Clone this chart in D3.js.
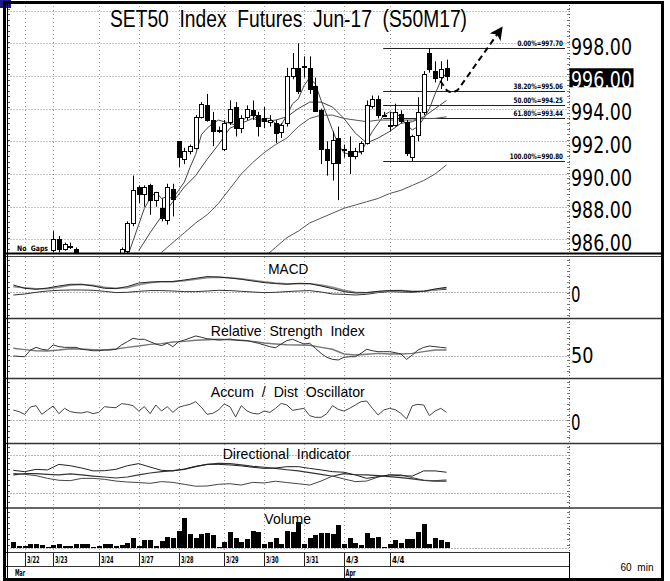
<!DOCTYPE html>
<html>
<head>
<meta charset="utf-8">
<title>SET50 Index Futures Jun-17</title>
<script src="https://cdn.jsdelivr.net/npm/d3@7"></script>
<style>
  body { margin: 0; background: #fff; }
  text { font-family: "Liberation Sans", Arial, sans-serif; white-space: pre; fill: #000; }
  .narrow { font-family: "Liberation Sans Narrow", "DejaVu Sans Condensed", "Liberation Sans", sans-serif; }
  .small { font-family: "DejaVu Sans Condensed", "DejaVu Sans", sans-serif; font-weight: bold; }
</style>
</head>
<body>
<svg id="chart" width="670" height="581"></svg>
<script>
// ---- data (60 min bars, index 0..76) ----
const title = "SET50  Index  Futures  Jun-17  (S50M17)";
const dateLabels = ["3/22", "3/23", "3/24", "3/27", "3/28", "3/29", "3/30", "3/31", "4/3", "4/4"];
const dateIdx = [2, 7, 15, 22, 29, 37, 44, 51, 58, 66];
const monthLabels = ["Mar", "Apr"];
const monthIdx = [null, 58];

const opens = [984.2,984.4,984.5,984.6,984.9,984.8,984.9,985.3,986.0,985.4,985.6,985.4,984.9,984.5,984.2,984.2,984.4,984.7,984.8,984.9,
  985.3,987.0,989.2,988.8,989.3,988.4,987.9,987.2,989.1,992.0,990.9,991.4,991.6,993.5,994.2,993.3,992.7,991.5,993.2,994.1,
  992.8,993.5,993.9,993.6,993.4,993.2,993.1,992.6,993.1,996.0,996.5,996.6,996.5,995.4,993.9,991.5,990.7,992.2,991.5,991.4,
  991.1,991.4,991.9,994.2,994.6,993.6,993.0,993.0,993.7,993.2,991.0,992.4,993.8,997.4,996.3,995.9,996.5];
const highs = [984.6,984.7,984.8,985.0,985.0,985.0,985.0,986.5,986.2,985.8,985.8,985.5,985.0,984.8,984.3,984.6,984.9,985.0,985.0,985.5,
  987.1,989.9,989.3,989.3,989.4,988.9,988.5,989.4,989.4,992.0,991.6,991.8,993.6,994.4,994.9,993.8,992.9,993.3,994.5,994.4,
  993.6,994.2,994.5,993.8,994.1,993.6,993.3,993.1,996.5,997.4,998.0,997.2,997.2,995.9,994.0,992.0,992.6,992.9,991.8,992.3,
  991.6,992.0,994.5,994.8,994.8,993.8,993.8,994.3,993.9,993.3,992.4,994.7,996.3,997.7,996.9,996.9,997.0];
const lows = [983.9,984.2,984.3,984.4,984.6,984.6,984.8,985.2,985.2,985.3,985.4,984.8,984.3,984.0,984.1,983.8,984.2,984.4,984.5,984.8,
  985.1,986.8,988.2,988.0,987.5,988.0,987.1,986.9,987.4,990.4,990.6,991.2,991.5,993.4,993.2,991.7,992.5,991.4,993.0,992.3,
  992.5,993.3,993.3,992.3,992.8,992.9,991.9,992.2,992.9,995.8,994.9,995.9,994.9,993.8,990.6,989.9,989.6,988.4,991.0,990.0,
  990.9,991.2,991.8,994.0,993.4,993.5,992.6,992.9,993.1,991.1,990.8,992.0,993.6,996.2,995.6,995.2,995.7];
const closes = [984.4,984.5,984.6,984.9,984.8,984.9,984.9,986.0,985.4,985.7,985.6,984.9,984.5,984.2,984.2,984.4,984.7,984.8,984.9,985.4,
  987.0,989.0,988.8,989.2,988.4,988.9,987.3,989.2,988.5,991.0,991.4,991.7,993.5,994.3,993.3,992.6,992.7,993.1,994.0,992.8,
  993.4,994.0,993.6,992.9,993.2,993.3,992.5,993.0,996.0,996.5,995.1,996.6,995.2,993.9,991.5,990.8,992.1,990.7,991.5,991.1,
  991.4,991.9,994.2,994.6,993.6,993.6,993.0,993.8,993.3,991.3,992.3,993.8,996.1,996.4,995.9,996.4,996.0];
const volume = [170,50,60,100,110,80,20,80,110,60,50,120,100,110,20,60,110,100,60,70,
  150,300,50,240,220,60,200,330,290,500,880,400,300,420,450,380,20,170,470,280,
  170,270,500,470,120,170,280,100,500,480,780,100,300,370,450,430,400,680,100,280,
  150,70,430,300,330,20,100,220,150,270,270,470,700,120,300,220,170];

// moving averages on the price panel (start index, step, values)
const ma1Start = 20, ma1Step = 1;
const ma1 = [984.9,985.9,986.9,987.9,988.5,988.9,988.5,988.6,988.5,989.0,989.5,990.4,991.2,992.4,992.8,993.1,993.3,993.2,993.1,993.0,
  993.2,993.5,993.6,993.3,993.4,993.4,993.1,993.0,993.6,994.3,994.6,995.4,995.9,995.5,994.5,993.6,992.7,991.8,991.3,991.2,
  991.4,991.3,992.0,992.6,993.1,993.6,993.8,993.7,993.5,993.0,992.7,992.9,993.4,994.0,994.9,995.7,996.2];
const ma2Start = 22, ma2Step = 2;
const ma2 = [985.3,986.4,987.4,988.3,989.2,989.9,990.9,991.8,992.8,993.1,993.4,993.2,993.3,993.5,994.0,994.4,994.4,994.1,993.4,992.5,
  991.9,992.2,992.6,993.1,993.2,993.5,994.0,994.5];
const ma3Start = 26, ma3Step = 2;
const ma3 = [985.2,985.8,986.4,987.0,987.5,988.2,989.1,990.0,990.7,991.3,991.8,992.2,992.9,993.4,993.6,993.6,993.4,993.3,993.2,993.3,
  993.3,993.3,993.3,993.4,993.4,993.5];
const ma4Start = 44, ma4Step = 2;
const ma4 = [984.9,985.5,986.1,986.5,987.0,987.3,987.6,987.9,988.1,988.3,988.5,988.8,989.0,989.3,989.6,990.0,990.55];

// fibonacci retracement
const fibPct = ["0.00%", "38.20%", "50.00%", "61.80%", "100.00%"];
const fibVal = [997.70, 995.06, 994.25, 993.44, 990.80];
const fibStartIdx = 64.9;
// dashed projection arrow, [bar index, price]
const arrowPts = [[74.9, 995.7], [76.1, 995.1], [77.0, 994.95], [78.0, 995.15], [85.2, 998.7]];

const priceTicks = [986, 988, 990, 992, 994, 996, 998];
const priceGrid = [986, 988, 990, 992, 994, 996, 998, 1000];
const lastPrice = 996.00;

// indicator panels, one value every 2 bars unless noted
const macdLine = [0.73,0.40,0.30,0.43,0.63,0.80,0.80,0.63,0.40,0.37,0.57,0.93,1.03,1.07,1.07,1.23,1.40,1.57,1.53,1.43,
  1.30,1.13,0.97,0.87,0.80,0.90,0.87,0.63,0.37,0.07,-0.07,-0.03,0.10,0.17,0.17,0.07,0.10,0.33,0.50];
const macdSignal = [0.55,0.45,0.35,0.35,0.50,0.70,0.78,0.70,0.50,0.40,0.45,0.75,0.95,1.05,1.07,1.15,1.30,1.45,1.50,1.45,
  1.35,1.20,1.05,0.93,0.85,0.85,0.85,0.72,0.50,0.20,0.00,-0.05,0.05,0.15,0.17,0.10,0.10,0.27,0.43];
const macdOsc = [-0.27,-0.17,0,0.13,0.2,0.23,0.23,0.2,0.1,-0.03,0,0.1,0.17,0.17,0.13,0.07,0.07,0.13,0.2,0.17,
  0.1,0.03,-0.03,0,0.07,0.13,0.17,0.03,-0.17,-0.2,-0.27,-0.2,-0.03,0.07,0.03,0,0.1,0.23,0.3];
// every bar
const rsi = [50.0,49.7,49.4,55.0,57.2,55.6,55.0,59.2,57.8,57.2,57.2,57.2,55.6,55.0,54.4,54.4,55.0,55.0,55.6,59.2,
  61.9,64.7,63.9,63.9,61.9,60.0,58.6,60.6,57.8,61.9,63.3,65.0,66.7,65.6,64.4,63.9,63.3,63.6,64.2,63.3,
  62.8,62.8,61.7,60.6,59.2,57.8,56.9,60.0,62.8,63.9,61.9,60.0,60.6,56.4,52.2,48.9,47.2,46.7,48.9,49.4,
  49.4,52.2,55.6,54.4,53.6,53.6,53.6,52.8,51.7,47.2,50.8,55.0,57.2,58.3,57.8,57.2,56.7];
const rsiAvg = [56.4,55.3,54.4,54.2,55.0,56.1,55.8,55.3,55.0,55.8,57.2,58.3,59.7,60.3,61.7,62.2,63.1,63.6,63.9,63.6,
  63.1,62.2,60.8,60.0,59.4,59.2,58.9,57.2,55.6,51.7,50.8,51.4,52.2,51.7,51.7,52.2,53.6,55.0,55.0];
// every bar
const adOsc = [30,25,17,39,43,17,30,42,19,35,25,22,21,25,19,23,40,38,37,49,
  47,43,27,40,19,45,27,40,23,38,43,47,55,38,17,20,30,48,40,9,
  43,27,20,18,27,23,35,50,45,29,32,35,13,8,8,19,43,32,27,35,
  45,55,57,35,15,30,35,31,20,3,43,47,45,13,27,35,23];
const diPlus = [32.0,31.3,32.5,32.2,35.1,34.4,33.2,31.7,31.8,32.5,34.4,35.5,33.7,32.0,31.7,32.7,34.1,35.1,35.1,34.8,
  34.3,33.6,33.0,33.2,33.9,33.9,33.0,32.2,31.3,31.0,29.6,27.8,28.7,29.6,29.2,29.0,31.7,31.7,31.0];
const diMinus = [30.4,29.9,29.2,27.8,26.8,26.6,27.8,27.8,27.3,26.4,25.9,25.6,25.2,26.1,25.7,24.7,23.7,23.8,24.7,25.0,
  24.3,25.7,25.4,26.3,25.6,25.0,24.3,26.4,29.0,27.5,26.1,26.4,28.5,29.6,29.6,28.2,26.8,26.6,27.0];
const adx = [29.6,30.3,30.3,29.9,29.6,30.1,29.6,29.0,28.5,28.0,28.5,29.6,30.6,31.3,31.8,32.5,33.9,35.1,35.7,35.5,
  34.8,34.1,33.6,33.0,32.3,31.7,30.8,29.9,28.9,30.3,29.7,29.6,29.2,28.7,28.2,27.5,26.8,26.4,26.4];

// ---- layout ----
const plotL = 7.5, plotR = 569, frameR = 663;
const panels = [
  {id: "main", top: 5, bottom: 253},
  {id: "macd", top: 256, bottom: 318},
  {id: "rsi", top: 318, bottom: 378},
  {id: "ad", top: 378, bottom: 443},
  {id: "di", top: 443, bottom: 508},
  {id: "vol", top: 508, bottom: 552}
];

const svg = d3.select("#chart");
const x = d3.scaleLinear().domain([0, 76]).range([13.3, 446.5]);
const px = i => Math.round(x(i)) + 0.5;
const yPrice = d3.scaleLinear().domain([986, 998]).range([239.3, 43.3]);
const yMacd = d3.scaleLinear().domain([0, 1]).range([292.3, 282.3]);
const yRsi = d3.scaleLinear().domain([50, 60]).range([356, 344]);
const yAd = d3.scaleLinear().domain([0, 30]).range([420, 410]);
const yDi = d3.scaleLinear().domain([20, 40]).range([493.3, 455]);
const yVol = d3.scaleLinear().domain([0, 1000]).range([547.7, 514.4]);

svg.append("rect").attr("width", 670).attr("height", 581).attr("fill", "#fff");
svg.append("rect").attr("x", 0).attr("y", 0).attr("width", 11).attr("height", 8).attr("fill", "#1a1a8c");

const defs = svg.append("defs");
panels.forEach(p => {
  defs.append("clipPath").attr("id", "clip-" + p.id)
    .append("rect").attr("x", plotL + 0.5).attr("y", p.top)
    .attr("width", plotR - plotL - 0.5).attr("height", p.bottom - p.top);
});
defs.append("marker").attr("id", "arrowhead").attr("viewBox", "0 0 10 10")
  .attr("refX", 5).attr("refY", 5).attr("markerWidth", 6.5).attr("markerHeight", 6.5)
  .attr("orient", "auto").attr("markerUnits", "strokeWidth")
  .append("path").attr("d", "M0,0 L10,5 L0,10 L2.5,5 Z").attr("fill", "#000");

// grid: vertical dotted lines at day starts, left/right minor ticks
panels.forEach(p => {
  const g = svg.append("g");
  g.selectAll("line.vgrid").data(dateIdx).join("line")
    .attr("x1", d => px(d)).attr("x2", d => px(d))
    .attr("y1", p.top + 1).attr("y2", p.bottom - 1)
    .attr("stroke", "#9a9a9a").attr("stroke-dasharray", "1,3");
  const ticks = d3.range(p.top + 4, p.bottom - 2, 5.45);
  g.selectAll("line.lt").data(ticks).join("line")
    .attr("x1", plotL).attr("x2", plotL + 2.5)
    .attr("y1", d => Math.round(d) + 0.5).attr("y2", d => Math.round(d) + 0.5)
    .attr("stroke", "#555");
  g.selectAll("line.rt").data(ticks).join("line")
    .attr("x1", plotR - 2).attr("x2", plotR + 1)
    .attr("y1", d => Math.round(d) + 0.5).attr("y2", d => Math.round(d) + 0.5)
    .attr("stroke", "#777");
  g.append("line").attr("x1", plotR + 0.5).attr("x2", plotR + 0.5)
    .attr("y1", p.top).attr("y2", p.bottom)
    .attr("stroke", "#666").attr("stroke-dasharray", "1,2");
});

// ---- main price panel ----
const main = svg.append("g").attr("clip-path", "url(#clip-main)");
main.selectAll("line.hgrid").data(priceGrid).join("line")
  .attr("x1", plotL).attr("x2", plotR)
  .attr("y1", d => Math.round(yPrice(d)) + 0.5).attr("y2", d => Math.round(yPrice(d)) + 0.5)
  .attr("stroke", "#8a8a8a").attr("stroke-dasharray", "1,2");

// fibonacci lines
const fibX0 = x(fibStartIdx), fibX1 = 565;
main.selectAll("line.fib").data(fibVal).join("line")
  .attr("x1", fibX0).attr("x2", fibX1)
  .attr("y1", d => Math.round(yPrice(d)) + 0.5).attr("y2", d => Math.round(yPrice(d)) + 0.5)
  .attr("stroke", "#222").attr("stroke-width", 1);
svg.selectAll("text.fib").data(fibVal).join("text")
  .attr("class", "small")
  .attr("x", 563).attr("y", d => Math.round(yPrice(d)) - 2)
  .attr("text-anchor", "end").attr("font-size", 7.5)
  .attr("textLength", (d, i) => (fibPct[i] + "=" + d.toFixed(2)).length * 3.8)
  .attr("lengthAdjust", "spacingAndGlyphs")
  .text((d, i) => fibPct[i] + "=" + d.toFixed(2));

// moving averages
const maLine = d3.line().x(d => x(d[0])).y(d => yPrice(d[1]));
[[ma4, ma4Start, ma4Step, "#555"], [ma3, ma3Start, ma3Step, "#555"],
 [ma2, ma2Start, ma2Step, "#444"], [ma1, ma1Start, ma1Step, "#444"]].forEach(([vals, s, st, c]) => {
  main.append("path").datum(vals.map((v, k) => [s + k * st, v]))
    .attr("d", maLine).attr("fill", "none").attr("stroke", c).attr("stroke-width", 1);
});

// candles
const bars = d3.range(opens.length);
main.selectAll("line.wick").data(bars).join("line")
  .attr("x1", px).attr("x2", px)
  .attr("y1", i => yPrice(highs[i])).attr("y2", i => yPrice(lows[i]))
  .attr("stroke", "#000").attr("stroke-width", 1);
main.selectAll("rect.body").data(bars).join("rect")
  .attr("x", i => Math.round(x(i)) - 2 + 0.5).attr("width", 4)
  .attr("y", i => Math.round(yPrice(Math.max(opens[i], closes[i]))) + 0.5)
  .attr("height", i => Math.max(1, Math.round(Math.abs(yPrice(opens[i]) - yPrice(closes[i])))))
  .attr("fill", i => closes[i] > opens[i] ? "#fff" : "#000")
  .attr("stroke", "#000").attr("stroke-width", 1);

// projection arrow
svg.append("path").datum(arrowPts)
  .attr("d", d3.line().x(d => x(d[0])).y(d => yPrice(d[1])))
  .attr("fill", "none").attr("stroke", "#000").attr("stroke-width", 2)
  .attr("stroke-dasharray", "6,4").attr("marker-end", "url(#arrowhead)");

svg.append("text").attr("class", "small").attr("x", 17).attr("y", 251)
  .attr("font-size", 7.5).attr("textLength", 31).attr("lengthAdjust", "spacingAndGlyphs")
  .text("No  Gaps");

svg.append("text").attr("x", 110).attr("y", 27).attr("font-size", 23)
  .attr("textLength", 357).attr("lengthAdjust", "spacingAndGlyphs").text(title);

// price axis labels
svg.append("rect").attr("x", 569.5).attr("y", yPrice(lastPrice) - 7.7)
  .attr("width", 64).attr("height", 19).attr("fill", "#000");
svg.selectAll("text.price").data(priceTicks).join("text")
  .attr("class", "narrow")
  .attr("x", 571).attr("y", d => yPrice(d) + 11.8)
  .attr("font-size", 23.5).attr("textLength", 61).attr("lengthAdjust", "spacingAndGlyphs")
  .style("fill", d => d === lastPrice ? "#fff" : "#000")
  .text(d => d.toFixed(2));

// ---- indicator panels ----
function indLine(g, vals, step, y, color, width) {
  g.append("path").datum(vals.map((v, k) => [k * step, v]))
    .attr("d", d3.line().x(d => x(d[0])).y(d => y(d[1])))
    .attr("fill", "none").attr("stroke", color).attr("stroke-width", width);
}
function refLine(y) {
  svg.append("line").attr("x1", plotL).attr("x2", plotR)
    .attr("y1", Math.round(y) + 0.5).attr("y2", Math.round(y) + 0.5)
    .attr("stroke", "#777").attr("stroke-dasharray", "1,2");
}
function panelTitle(txt, cx, base, len) {
  svg.append("text").attr("x", cx).attr("y", base).attr("text-anchor", "middle")
    .attr("font-size", 14.5).attr("textLength", len).attr("lengthAdjust", "spacingAndGlyphs")
    .attr("fill", "#111").text(txt);
}
function rightLabel(txt, base, len) {
  svg.append("text").attr("class", "narrow").attr("x", 571).attr("y", base)
    .attr("font-size", 21).attr("textLength", len).attr("lengthAdjust", "spacingAndGlyphs").text(txt);
}

// MACD
refLine(yMacd(0));
const gMacd = svg.append("g").attr("clip-path", "url(#clip-macd)");
indLine(gMacd, macdOsc, 2, yMacd, "#333", 1);
indLine(gMacd, macdSignal, 2, yMacd, "#8a8a8a", 1.6);
indLine(gMacd, macdLine, 2, yMacd, "#222", 1);
panelTitle("MACD", 288.3, 274, 40);
rightLabel("0", 301.5, 9.5);

// RSI
refLine(yRsi(50));
const gRsi = svg.append("g").attr("clip-path", "url(#clip-rsi)");
indLine(gRsi, rsiAvg, 2, yRsi, "#777", 1.4);
indLine(gRsi, rsi, 1, yRsi, "#333", 1);
panelTitle("Relative  Strength  Index", 287.8, 335.7, 154);
rightLabel("50", 363.3, 22.5);

// Accum / Dist oscillator
refLine(yAd(0));
const gAd = svg.append("g").attr("clip-path", "url(#clip-ad)");
indLine(gAd, adOsc, 1, yAd, "#444", 1);
panelTitle("Accum  /  Dist  Oscillator", 287.8, 396.7, 154);
rightLabel("0", 430, 9.5);

// Directional indicator
refLine(yDi(40));
refLine(yDi(20));
const gDi = svg.append("g").attr("clip-path", "url(#clip-di)");
indLine(gDi, adx, 2, yDi, "#333", 1.2);
indLine(gDi, diMinus, 2, yDi, "#444", 1);
indLine(gDi, diPlus, 2, yDi, "#222", 1);
panelTitle("Directional  Indicator", 286.7, 459, 128);

// Volume
refLine(yVol(0));
const gVol = svg.append("g").attr("clip-path", "url(#clip-vol)");
gVol.selectAll("rect").data(bars).join("rect")
  .attr("x", i => Math.round(x(i)) - 2).attr("width", 5)
  .attr("y", i => Math.round(yVol(volume[i])))
  .attr("height", i => Math.max(1, Math.round(yVol(0)) - Math.round(yVol(volume[i]))))
  .attr("fill", "#000");
panelTitle("Volume", 287.7, 524.3, 46.7);

// ---- separators and frame ----
function hsep(y, x2, w, c) {
  svg.append("line").attr("x1", 4).attr("x2", x2).attr("y1", y).attr("y2", y)
    .attr("stroke", c || "#000").attr("stroke-width", w);
}
hsep(253.5, frameR, 2);
hsep(256.5, frameR, 1, "#444");
hsep(318.5, frameR, 1.5, "#333");
hsep(378.5, frameR, 1.5, "#333");
hsep(443.5, frameR, 1.5, "#333");
hsep(508, frameR, 1.5, "#333");
hsep(552.5, plotR, 1, "#333");
hsep(566.5, plotR, 1, "#333");
svg.append("line").attr("x1", plotL).attr("x2", plotL).attr("y1", 4).attr("y2", 578)
  .attr("stroke", "#000").attr("stroke-width", 1);
svg.append("line").attr("x1", plotR + 0.5).attr("x2", plotR + 0.5).attr("y1", 552).attr("y2", 578)
  .attr("stroke", "#000").attr("stroke-width", 1);

// date axis
const gDate = svg.append("g");
gDate.selectAll("line").data(dateIdx).join("line")
  .attr("x1", px).attr("x2", px).attr("y1", 553).attr("y2", 566)
  .attr("stroke", "#222");
gDate.selectAll("text").data(dateIdx).join("text")
  .attr("class", "small").attr("x", d => px(d) + 1.5).attr("y", 563)
  .attr("font-size", 8).attr("textLength", 12.5).attr("lengthAdjust", "spacingAndGlyphs")
  .text((d, i) => dateLabels[i]);
svg.append("text").attr("class", "small").attr("x", 15).attr("y", 576)
  .attr("font-size", 8).attr("textLength", 10).attr("lengthAdjust", "spacingAndGlyphs").text(monthLabels[0]);
svg.append("line").attr("x1", px(monthIdx[1])).attr("x2", px(monthIdx[1])).attr("y1", 567).attr("y2", 578)
  .attr("stroke", "#222");
svg.append("text").attr("class", "small").attr("x", px(monthIdx[1]) + 1).attr("y", 576)
  .attr("font-size", 8).attr("textLength", 10).attr("lengthAdjust", "spacingAndGlyphs").text(monthLabels[1]);

svg.append("text").attr("x", 637).attr("y", 571).attr("text-anchor", "middle")
  .attr("font-size", 10).attr("textLength", 33).attr("lengthAdjust", "spacingAndGlyphs").text("60  min");

svg.append("rect").attr("x", 4.5).attr("y", 2.5).attr("width", 658).attr("height", 577)
  .attr("fill", "none").attr("stroke", "#000").attr("stroke-width", 3);
</script>
</body>
</html>
